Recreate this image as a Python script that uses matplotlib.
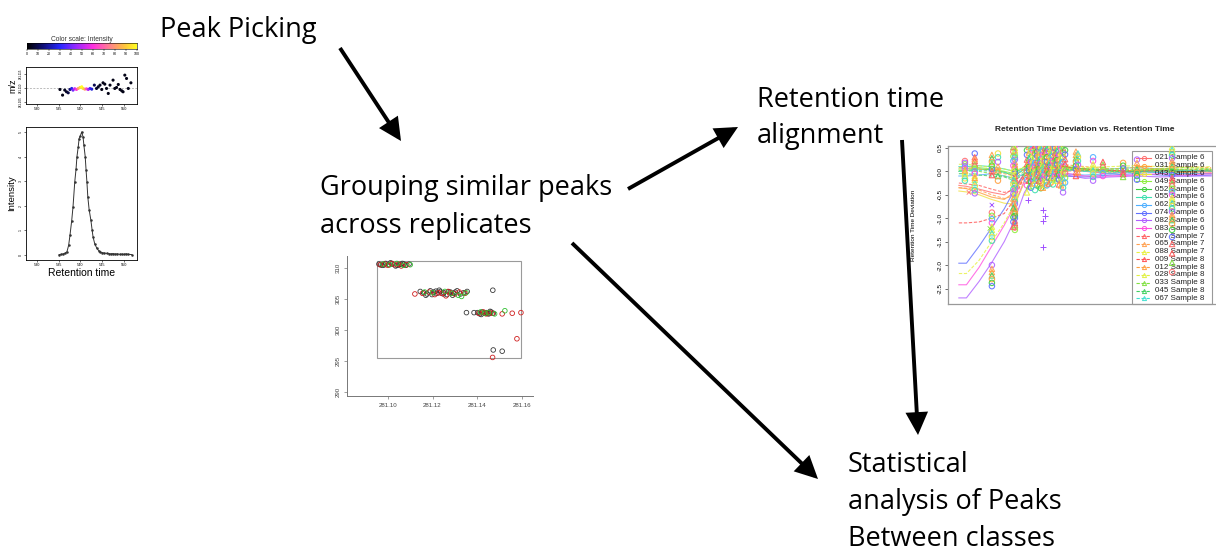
import numpy as np
import matplotlib
matplotlib.use('Agg')
import matplotlib.pyplot as plt
from matplotlib.patches import FancyArrowPatch, Rectangle
from matplotlib.colors import LinearSegmentedColormap
from matplotlib.lines import Line2D

plt.rcParams['font.family'] = ['Liberation Sans', 'DejaVu Sans']

# ---------------- data ----------------
step_labels = ['Peak Picking', 'Grouping similar peaks\nacross replicates',
               'Retention time\nalignment', 'Statistical\nanalysis of Peaks\nBetween classes']

cbar_ticks = [0, 10, 20, 30, 40, 50, 60, 70, 80, 90, 100]
rt_ticks_small = [530, 535, 540, 545, 550]

# m/z scatter (retention time, m/z deviation, intensity %)
mz_rt = [535.3, 535.9, 536.4, 536.8, 537.2, 537.6, 538.0, 538.3, 538.7, 539.1, 539.5, 539.9,
         540.3, 540.6, 541.0, 541.4, 541.8, 542.2, 542.6, 543.2, 543.7, 544.1, 544.5, 544.9,
         545.2, 545.6, 546.0, 546.4, 546.8, 547.5, 547.9, 548.3, 548.7, 549.1, 549.5, 549.8,
         550.2, 550.6, 551.0, 551.6]
mz_dev = [-0.36, -1.58, -0.5, -0.86, -1.08, -0.36, -0.14, -0.5, -0.2, -0.36, -0.14, 0.07,
          0.22, -0.14, -0.29, -0.22, -0.36, -0.14, -0.29, 0.58, -0.14, 0.22, 0.58, -0.36,
          1.08, 0.79, -0.14, -1.22, 0.58, 1.66, -0.14, 0.07, 0.72, -0.36, -0.65, -0.86,
          2.74, 2.02, -0.14, 1.08]
mz_int = [3, 3, 4, 5, 8, 15, 28, 40, 52, 62, 80, 92,
          100, 95, 82, 65, 48, 35, 25, 10, 6, 4, 4, 3,
          3, 3, 3, 3, 3, 3, 3, 3, 3, 3, 3, 3, 3, 3, 3, 3]

# chromatographic peak
peak_rt = [535.1, 535.6, 536.1, 536.5, 536.9, 537.3, 537.6, 538.0, 538.3, 538.7, 539.0, 539.2,
           539.5, 539.7, 540.0, 540.3, 540.6, 540.8, 541.1, 541.3, 541.5, 541.7, 542.0, 542.4,
           542.7, 542.9, 543.3, 543.8, 544.2, 544.5, 545.0, 545.5, 546.0, 546.5, 547.0, 547.5,
           548.0, 548.5, 549.0, 549.5, 550.0, 550.5, 551.0, 551.8]
peak_int = [0.02, 0.03, 0.05, 0.08, 0.13, 0.4, 0.8, 1.4, 1.96, 2.97, 3.5, 3.99,
            4.4, 4.73, 4.85, 5.0, 4.8, 4.46, 4.0, 3.45, 2.95, 2.36, 1.85, 1.42,
            1.0, 0.74, 0.45, 0.27, 0.18, 0.13, 0.1, 0.08, 0.07, 0.06, 0.05, 0.06,
            0.04, 0.05, 0.03, 0.04, 0.03, 0.05, 0.03, 0.02]
int_ticks = [0, 1, 2, 3, 4, 5]

# grouping plot (m/z vs retention time)
grp_black_x = [281.0960, 281.0975, 281.0990, 281.1005, 281.1020, 281.1035, 281.1050, 281.1065,
               281.1080, 281.1095, 281.0968, 281.1012, 281.1042, 281.1072, 281.0983, 281.1058,
               281.1145, 281.1160, 281.1175, 281.1190, 281.1205, 281.1220, 281.1235, 281.1250,
               281.1265, 281.1280, 281.1295, 281.1310, 281.1325, 281.1340, 281.1355, 281.1170,
               281.1230, 281.1290, 281.1470, 281.1198, 281.1248, 281.1302, 281.1215, 281.1272,
               281.1402, 281.1412, 281.1422, 281.1432, 281.1442, 281.1452, 281.1462, 281.1472,
               281.1418, 281.1458, 281.1436, 281.1448, 281.1352, 281.1386, 281.1472, 281.1512]
grp_black_y = [310.6, 310.4, 310.7, 310.5, 310.6, 310.3, 310.5, 310.7, 310.4, 310.6, 310.5, 310.8,
               310.4, 310.6, 310.45, 310.55,
               306.2, 306.0, 305.8, 306.3, 306.1, 305.9, 306.2, 306.0, 305.7, 306.1, 305.9, 306.3,
               305.8, 306.0, 306.2, 305.6, 306.4, 305.6, 306.4, 305.7, 305.8, 306.1, 306.25, 306.15,
               302.8, 302.6, 302.9, 302.7, 302.8, 302.6, 302.9, 302.7, 302.5, 303.0, 302.75, 302.65,
               302.8, 302.8, 296.8, 296.6]
grp_red_x = [281.0965, 281.0985, 281.1000, 281.1018, 281.1030, 281.1048, 281.1060, 281.1085,
             281.1121, 281.1155, 281.1185, 281.1210, 281.1240, 281.1270, 281.1300, 281.1320,
             281.1345, 281.1260, 281.1228, 281.1282,
             281.1408, 281.1428, 281.1440, 281.1455, 281.1468, 281.1434,
             281.1512, 281.1557, 281.1596, 281.1578, 281.1469]
grp_red_y = [310.5, 310.6, 310.4, 310.7, 310.5, 310.6, 310.3, 310.5,
             305.8, 305.9, 306.1, 305.7, 305.9, 306.2, 305.8, 306.1, 305.9, 305.5, 306.0, 305.95,
             302.7, 302.9, 302.6, 302.8, 302.7, 302.75,
             302.6, 302.7, 302.8, 298.6, 295.6]
grp_green_x = [281.0978, 281.1008, 281.1040, 281.1070, 281.1100,
               281.1165, 281.1200, 281.1255, 281.1285, 281.1315, 281.1330, 281.1350,
               281.1415, 281.1435, 281.1450, 281.1478, 281.1524]
grp_green_y = [310.6, 310.5, 310.7, 310.4, 310.5,
               306.1, 306.0, 306.2, 305.9, 305.6, 305.4, 306.0,
               302.9, 302.7, 302.8, 302.6, 303.1]
grp_xticks = [281.10, 281.12, 281.14, 281.16]
grp_yticks = [290, 295, 300, 305, 310]

# retention time deviation plot
rt_samples = ['021 Sample 6', '031 Sample 6', '043 Sample 6', '049 Sample 6', '052 Sample 6',
              '055 Sample 6', '062 Sample 6', '074 Sample 6', '082 Sample 6', '083 Sample 6',
              '007 Sample 7', '065 Sample 7', '088 Sample 7', '009 Sample 8', '012 Sample 8',
              '028 Sample 8', '033 Sample 8', '045 Sample 8', '067 Sample 8']
rt_colors = ['#ff7070', '#ffa040', '#f0e040', '#90ee40', '#40d040', '#40e0b0', '#50b0ff',
             '#6070ff', '#b060ff', '#ff50e0',
             '#ff6060', '#ffa050', '#e8f040', '#ff5050', '#ffa040', '#e0f040', '#80e040',
             '#40d060', '#40e0d0']
rt_knots = [0, 3, 8, 13, 18, 22, 26, 32, 40, 50, 60, 70, 80, 90, 100]
rt_dev = [
    [-0.30, -0.32, -0.38, -0.45, -0.50, -0.35, -0.05, 0.02, 0.05, 0.0, -0.05, 0.0, 0.03, 0.0, -0.02],
    [-0.35, -0.37, -0.45, -0.55, -0.60, -0.45, -0.10, 0.05, 0.08, 0.03, -0.02, 0.02, 0.0, -0.03, -0.05],
    [-0.42, -0.44, -0.50, -0.60, -0.68, -0.70, -0.20, 0.0, 0.10, 0.05, 0.0, -0.03, 0.02, 0.0, 0.02],
    [0.05, 0.06, 0.08, 0.05, 0.0, -0.05, 0.10, 0.15, 0.10, 0.05, 0.0, 0.02, 0.05, 0.03, 0.0],
    [0.0, 0.02, 0.05, 0.03, -0.02, -0.10, 0.05, 0.10, 0.12, 0.05, 0.02, 0.0, -0.02, 0.0, 0.03],
    [0.10, 0.10, 0.12, 0.10, 0.05, 0.0, 0.05, 0.08, 0.05, 0.0, 0.05, 0.08, 0.05, 0.02, 0.0],
    [-0.10, -0.10, -0.08, -0.05, -0.10, -0.15, -0.05, 0.0, -0.05, -0.08, -0.05, 0.0, -0.03, -0.05, -0.05],
    [-1.96, -1.96, -1.60, -1.20, -0.80, -0.40, -0.05, 0.0, -0.10, -0.12, -0.08, -0.05, -0.08, -0.10, -0.08],
    [-2.70, -2.70, -2.35, -1.95, -1.50, -1.05, -0.45, 0.05, -0.05, -0.15, -0.12, -0.10, -0.12, -0.10, -0.10],
    [-2.42, -2.42, -2.05, -1.60, -1.15, -0.75, -0.20, 0.05, -0.02, -0.10, -0.10, -0.08, -0.05, -0.08, -0.05],
    [-0.25, -0.27, -0.30, -0.38, -0.45, -0.40, -0.05, 0.02, 0.0, 0.02, 0.0, -0.02, 0.0, 0.02, 0.0],
    [-0.35, -0.36, -0.40, -0.50, -0.58, -0.52, -0.10, 0.0, 0.03, 0.02, 0.0, 0.02, 0.05, 0.03, 0.05],
    [-2.18, -2.18, -1.90, -1.50, -1.10, -0.70, -0.25, 0.02, 0.05, 0.03, 0.0, 0.02, 0.03, 0.05, 0.05],
    [-1.10, -1.10, -1.08, -1.00, -0.90, -0.60, -0.10, 0.05, 0.10, 0.05, 0.02, 0.0, 0.02, 0.0, 0.0],
    [0.08, 0.08, 0.05, 0.0, -0.05, -0.10, 0.05, 0.10, 0.15, 0.10, 0.05, 0.08, 0.05, 0.10, 0.08],
    [0.15, 0.15, 0.12, 0.08, 0.05, 0.0, 0.10, 0.18, 0.12, 0.08, 0.10, 0.12, 0.10, 0.08, 0.10],
    [0.02, 0.03, 0.0, -0.05, -0.10, -0.15, 0.0, 0.05, 0.08, 0.05, 0.05, 0.03, 0.05, 0.08, 0.05],
    [-0.05, -0.05, -0.08, -0.10, -0.12, -0.20, -0.05, 0.03, 0.05, 0.02, 0.0, 0.0, 0.02, 0.03, 0.03],
    [0.0, 0.0, 0.02, 0.0, -0.03, -0.05, 0.02, 0.05, 0.03, 0.0, -0.02, -0.03, 0.0, 0.02, 0.0],
]
rt_col_x = [2.4, 6.3, 13.1, 15.5, 22.2, 21.6, 27.0, 27.8, 28.6, 29.4, 30.2, 31.0, 31.7, 32.5,
            33.3, 34.1, 34.9, 35.7, 36.5, 37.3, 38.1, 38.9, 39.7, 40.5, 41.3, 42.1,
            46.4, 47.2, 53.2, 57.1, 65.1, 70.6, 84.5]
rt_col_y = [
    [0.22, 0.15, 0.1, 0.05, 0.0, -0.04, -0.1, -0.15, -0.2, 0.18, 0.02],
    [0.38, 0.3, 0.22, 0.15, 0.1, 0.05, 0.0, -0.05, -0.1, -0.18, -0.25, -0.32, -0.4, -0.47, 0.26, -0.14],
    [0.35, 0.28, 0.2, 0.12, 0.05, 0.0, -0.08, 0.16, -0.88, -0.95, -1.02, -1.1, -1.18, -1.25, -1.32,
     -1.4, -1.48, -2.0, -2.08, -2.15, -2.22, -2.3, -2.38, -2.45],
    [0.38, 0.3, 0.2, 0.1, 0.02, -0.1, -0.2],
    [0.55, 0.5, 0.45, 0.4, 0.35, 0.3, 0.25, 0.2, 0.15, 0.1, 0.05, 0.0, -0.05, -0.1, -0.15, -0.2,
     -0.25, -0.3, -0.35, -0.4, -0.45, -0.5, -0.55, -0.6, -0.65, -0.7, -0.75, -0.8, -0.85, -0.9,
     -0.95, -1.0, -1.05, -1.1, -1.15, -1.2, -1.25],
    [0.52, 0.42, 0.32, 0.22, 0.12, 0.02, -0.08, -0.18, -0.28, -0.38, -0.48, -0.58, -0.68, -0.78,
     -0.88, -0.98, -1.08, -1.18],
    [0.45, 0.35, 0.25, 0.15, 0.08, 0.0, -0.08, -0.18, -0.3, -0.45],
    [0.52, 0.4, 0.28, 0.18, 0.1, 0.02, -0.1, -0.2, -0.32],
    [0.5, 0.42, 0.3, 0.2, 0.12, 0.05, -0.02, -0.12, -0.22, -0.35],
    [0.55, 0.46, 0.36, 0.24, 0.14, 0.04, -0.06, -0.16, -0.26],
    [0.55, 0.45, 0.38, 0.28, 0.18, 0.1, 0.02, -0.06, -0.15, -0.28, -0.4],
    [0.52, 0.42, 0.33, 0.24, 0.13, 0.03, -0.07, -0.18, -0.3],
    [0.5, 0.4, 0.32, 0.22, 0.15, 0.06, -0.03, -0.1, -0.2, -0.3],
    [0.55, 0.47, 0.37, 0.27, 0.17, 0.07, -0.02, -0.13, -0.24, -0.36],
    [0.52, 0.44, 0.35, 0.25, 0.16, 0.08, 0.0, -0.08, -0.16, -0.25, -0.35],
    [0.5, 0.41, 0.31, 0.21, 0.11, 0.01, -0.09, -0.19, -0.29],
    [0.48, 0.38, 0.3, 0.2, 0.12, 0.04, -0.04, -0.12, -0.22, -0.3],
    [0.53, 0.43, 0.33, 0.23, 0.14, 0.05, -0.05, -0.15, -0.26],
    [0.55, 0.45, 0.35, 0.26, 0.18, 0.1, 0.02, -0.06, -0.14, -0.24],
    [0.5, 0.41, 0.32, 0.22, 0.12, 0.03, -0.07, -0.17, -0.28],
    [0.5, 0.4, 0.3, 0.22, 0.14, 0.06, -0.02, -0.1, -0.2],
    [0.54, 0.44, 0.34, 0.24, 0.15, 0.05, -0.05, -0.15],
    [0.55, 0.45, 0.36, 0.26, 0.16, 0.08, 0.0, -0.08, -0.18, -0.28],
    [0.5, 0.4, 0.3, 0.2, 0.1, 0.0, -0.1, -0.2, -0.3],
    [0.5, 0.4, 0.3, 0.2, 0.1, 0.02, -0.06, -0.15, -0.25, -0.35, -0.45],
    [0.45, 0.36, 0.26, 0.16, 0.06, -0.04, -0.14, -0.24],
    [0.42, 0.35, 0.28, 0.2, 0.12, 0.05, -0.02, -0.1],
    [0.38, 0.3, 0.22, 0.14, 0.06, -0.02],
    [0.3, 0.22, 0.15, 0.08, 0.02, -0.05, -0.12, -0.2],
    [0.2, 0.14, 0.08, 0.02, -0.04, -0.1],
    [0.18, 0.12, 0.06, 0.0, -0.06, -0.12],
    [0.25, 0.18, 0.1, 0.04, -0.03, -0.1, -0.18],
    [0.52, 0.46, 0.4, 0.34, 0.28, 0.22, 0.16, 0.1, 0.04, -0.02, -0.08, -0.14, -0.2, -0.26, -0.32,
     -0.38, -0.44, -0.5, -0.56, -0.62, -0.68, -0.74, -0.8, -0.86, -0.92, -0.98, -1.04, -1.12,
     -1.25, -1.4, -1.55, -1.75, -1.95, -2.15],
]
rt_plus_x = [33.3, 34.1, 33.3, 33.3, 27.4]
rt_plus_y = [-0.83, -0.95, -1.07, -1.62, -0.62]
rt_cross_x = [13.1, 12.3, 4.0]
rt_cross_y = [-0.72, -1.22, -0.45]
rt_yticks = [0.5, 0.0, -0.5, -1.0, -1.5, -2.0, -2.5]

# ---------------- figure ----------------
W, H = 1216, 552
fig = plt.figure(figsize=(W / 100, H / 100), dpi=100)


def box(l, t, r, b):
    return fig.add_axes([l / W, 1 - b / H, (r - l) / W, (b - t) / H])


def fp(x, y):
    return (x / W, 1 - y / H)


# step texts
step_font = ['Open Sans', 'DejaVu Sans']
fs = 19.5
text_pos = [(160, 37, 0), (320, 195, 38), (757, 107, 36), (848, 472, 37)]
for lab, (x, y, dy) in zip(step_labels, text_pos):
    for k, line in enumerate(lab.split('\n')):
        fig.text(x / W, 1 - (y + k * dy) / H, line, fontsize=fs, family=step_font,
                 ha='left', va='baseline', color='black')

# arrows
arrows = [((340, 48), (401, 141)), ((628, 189), (738, 127)),
          ((902, 140), (918, 435)), ((572, 243), (818, 479))]
for (p0, p1) in arrows:
    a = FancyArrowPatch(fp(*p0), fp(*p1), transform=fig.transFigure,
                        arrowstyle='-|>,head_length=0.85,head_width=0.42',
                        mutation_scale=14, lw=2.8, color='black',
                        shrinkA=0, shrinkB=0, joinstyle='miter', capstyle='butt')
    fig.add_artist(a)

# ---- colour bar ----
cmap = LinearSegmentedColormap.from_list('xcms', [
    (0.0, '#000000'), (0.15, '#10107a'), (0.3, '#2828ff'), (0.45, '#9a28ff'),
    (0.6, '#ff30e0'), (0.75, '#ff8090'), (0.88, '#ffc040'), (1.0, '#ffff20')])
cax = box(27, 43, 137, 49)
cax.imshow(np.linspace(0, 100, 256)[None, :], aspect='auto', cmap=cmap, extent=[0, 100, 0, 1])
cax.set_yticks([])
cax.set_xticks(cbar_ticks)
cax.set_xticklabels([str(t) for t in cbar_ticks], fontsize=2.6)
cax.tick_params(axis='x', length=1.2, width=0.3, pad=0.8)
cax.set_title('Color scale: Intensity', fontsize=4.8, pad=0.8, color='#333333')
for s in cax.spines.values():
    s.set_linewidth(0.4)

# ---- m/z plot ----
max_ = box(26, 67, 137, 104)
max_.axhline(0, color='#bbbbbb', lw=0.7, ls=(0, (2, 1.5)))
max_.scatter(mz_rt, mz_dev, c=mz_int, cmap=cmap, vmin=0, vmax=100, s=5, zorder=3, linewidths=0)
max_.set_xlim(527.5, 553.0)
max_.set_ylim(-3.5, 4.5)
max_.set_xticks(rt_ticks_small)
max_.set_xticklabels([str(t) for t in rt_ticks_small], fontsize=2.8)
max_.set_yticks([-3, 0, 3])
max_.set_yticklabels(['281.105', '281.110', '281.115'], fontsize=2.2, rotation=90, va='center')
max_.tick_params(length=1.3, width=0.4, pad=1)
max_.set_ylabel('m/z', fontsize=6.5, labelpad=1)
for s in max_.spines.values():
    s.set_linewidth(0.6)

# ---- intensity plot ----
iax = box(26, 127, 137, 260)
iax.plot(peak_rt, peak_int, '-o', color='#333333', lw=0.7, ms=1.8, mew=0)
iax.set_xlim(527.5, 553.0)
iax.set_ylim(-0.2, 5.2)
iax.set_xticks(rt_ticks_small)
iax.set_xticklabels([str(t) for t in rt_ticks_small], fontsize=2.8)
iax.set_yticks(int_ticks)
iax.set_yticklabels([str(t) for t in int_ticks], fontsize=2.6, rotation=90, va='center')
iax.tick_params(length=1.3, width=0.4, pad=1)
iax.set_xlabel('Retention time', fontsize=7.5, labelpad=0.5)
iax.set_ylabel('Intensity', fontsize=6.8, labelpad=2)
for s in iax.spines.values():
    s.set_linewidth(0.6)

# ---- grouping plot ----
gax = box(347, 256, 533, 396)
gax.set_xlim(281.0817, 281.1650)
gax.set_ylim(289.4, 311.9)
gax.add_patch(Rectangle((281.0953, 295.5), 0.0644, 15.6, fill=False, ec='#9a9a9a', lw=0.8))
for xs, ys, col in [(grp_black_x, grp_black_y, '#3a3a3a'), (grp_red_x, grp_red_y, '#d02020'),
                    (grp_green_x, grp_green_y, '#30c030')]:
    gax.scatter(xs, ys, s=11, facecolors='none', edgecolors=col, linewidths=0.6, zorder=3)
gax.spines['top'].set_visible(False)
gax.spines['right'].set_visible(False)
for s in ['left', 'bottom']:
    gax.spines[s].set_color('#777777')
    gax.spines[s].set_linewidth(0.7)
gax.set_xticks(grp_xticks)
gax.set_xticklabels(['%.2f' % t for t in grp_xticks], fontsize=4.4, color='#444444')
gax.set_yticks(grp_yticks)
gax.set_yticklabels([str(t) for t in grp_yticks], fontsize=4.4, rotation=90, va='center',
                    color='#444444')
gax.tick_params(length=2.2, width=0.5, pad=2.5, color='#777777')

# ---- retention time deviation plot ----
rax = box(948, 146, 1222, 304)
rax.set_xlim(-4.3, 104.3)
rax.set_ylim(-2.83, 0.54)
for i in range(len(rt_samples)):
    ls = '-' if i < 10 else (0, (3, 1.5))
    rax.plot(rt_knots, rt_dev[i], color=rt_colors[i], lw=0.8, ls=ls, alpha=0.8, zorder=2)
n = len(rt_samples)
for ci, (cx, ys) in enumerate(zip(rt_col_x, rt_col_y)):
    for j, yv in enumerate(ys):
        si = (ci * 7 + j * 3) % n
        rax.scatter([cx], [yv], s=15, marker='o' if si < 10 else '^', facecolors='none',
                    edgecolors=rt_colors[si], linewidths=0.8, alpha=0.9, zorder=4)
rax.scatter(rt_plus_x, rt_plus_y, s=16, marker='+', color='#a050ff', linewidths=0.7, zorder=4)
rax.scatter(rt_cross_x, rt_cross_y, s=10, marker='x', color=['#a050ff', '#80e040', '#ff7070'],
            linewidths=0.6, zorder=4)
rax.set_xticks([])
rax.set_yticks(rt_yticks)
rax.set_yticklabels(['%.1f' % t for t in rt_yticks], fontsize=4.6, rotation=90, va='center')
rax.tick_params(axis='y', length=2, width=0.4, pad=1.5)
rax.set_ylabel('Retention Time Deviation', fontsize=4.6)
rax.yaxis.set_label_coords(-(948 - 916) / 274, 0.5)
rax.set_title('Retention Time Deviation vs. Retention Time', fontsize=6, fontweight='bold',
              pad=11, color='#222222')
for s in rax.spines.values():
    s.set_color('#999999')
    s.set_linewidth(0.9)

# manual legend (drawn under the points)
leg_rect = Rectangle(fp(1132, 304), (1212 - 1132) / W, (304 - 151) / H, transform=fig.transFigure,
                     fill=False, ec='#999999', lw=0.8, zorder=1.5, clip_on=False)
rax.add_patch(leg_rect)
for i, lab in enumerate(rt_samples):
    y = 158 + i * 7.8
    ls = '-' if i < 10 else (0, (3, 1.5))
    rax.add_line(Line2D([1136 / W, 1151 / W], [1 - y / H] * 2, transform=fig.transFigure,
                        color=rt_colors[i], lw=0.8, ls=ls, zorder=2.5, clip_on=False))
    rax.add_line(Line2D([1143.5 / W], [1 - y / H], transform=fig.transFigure,
                        marker='o' if i < 10 else '^', ms=3, mfc='none', mec=rt_colors[i],
                        mew=0.7, zorder=2.5, clip_on=False))
    rax.text(1155 / W, 1 - y / H, lab, transform=fig.transFigure, fontsize=5.8,
             va='center', ha='left', color='#222222', zorder=2.6, clip_on=False)

fig.savefig('out.png', dpi=100)
